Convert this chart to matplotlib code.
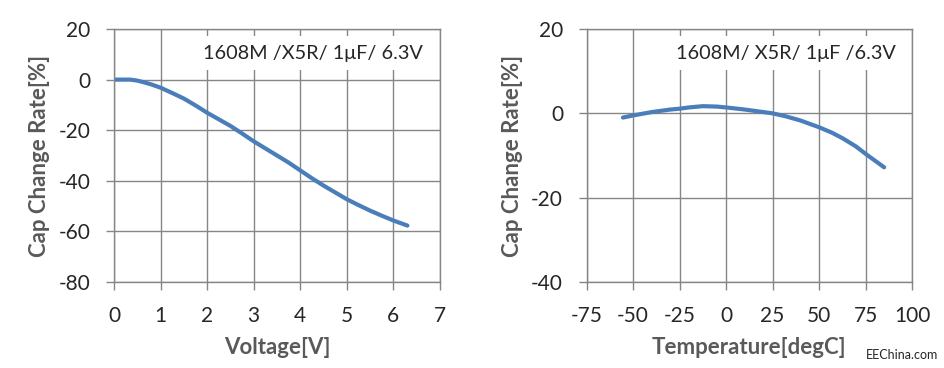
import numpy as np
import matplotlib.pyplot as plt

plt.rcParams['font.family'] = ['Lato', 'DejaVu Sans']
plt.rcParams['axes.unicode_minus'] = False

# DC bias characteristic
volt = [0, 0.2, 0.35, 0.5, 0.63, 0.8, 1.0, 1.25, 1.5, 1.75, 2.0, 2.25, 2.5, 2.75, 3.0, 3.25, 3.5,
        3.75, 4.0, 4.25, 4.5, 4.75, 5.0, 5.25, 5.5, 5.75, 6.0, 6.15, 6.3]
volt_rate = [0, 0, 0, -0.4, -1.0, -1.9, -3.2, -5.3, -7.5, -10.2, -13.1, -15.7, -18.3, -21.3, -24.4,
             -27.2, -30.0, -32.8, -35.9, -39.0, -41.9, -44.6, -47.3, -49.6, -51.8, -53.8, -55.7,
             -56.7, -57.7]

# temperature characteristic
temp = [-55.5, -50, -40, -30, -25, -20, -12.5, -5, 0, 10, 20, 25, 32, 40, 50, 57, 63, 70, 75, 80, 85]
temp_rate = [-1.0, -0.5, 0.3, 0.9, 1.1, 1.4, 1.7, 1.6, 1.4, 0.9, 0.3, 0.0, -0.7, -1.7, -3.3,
             -4.6, -6.0, -7.9, -9.6, -11.2, -12.8]

label_txt = ["1608M /X5R/ 1\u03bcF/ 6.3V", "1608M/ X5R/ 1\u03bcF /6.3V"]

blue = "#4A7EBB"
grid = "#868686"
txt = "#262626"
lab = "#595959"

fig = plt.figure(figsize=(9.45, 3.68), dpi=100)
ax1 = fig.add_axes([114/945, 1-282/368, (440-114)/945, (282-29)/368])
ax2 = fig.add_axes([586.7/945, 1-282/368, (912-586.7)/945, (282-29)/368])

def style(ax):
    ax.grid(True, color=grid, lw=1.0)
    ax.set_axisbelow(True)
    for s in ax.spines.values():
        s.set_color(grid)
        s.set_linewidth(1.0)
    ax.tick_params(direction='out', length=6, width=1.0, color=grid,
                   labelsize=15, labelcolor=txt, pad=11)
    ax.set_ylabel("Cap Change Rate[%]", fontsize=16, fontweight='bold', color=lab, labelpad=6)

ax1.plot(volt, volt_rate, color=blue, lw=3.0, solid_capstyle='round')
ax1.set_xlim(0, 7)
ax1.set_ylim(-80, 20)
ax1.set_xticks(range(0, 8))
ax1.set_yticks(range(-80, 21, 20))
style(ax1)
ax1.set_xlabel("Voltage[V]", fontsize=16, fontweight='bold', color=lab, labelpad=8)
ax1.text(0.948, 0.905, label_txt[0], transform=ax1.transAxes, ha='right', va='center',
         fontsize=14.3, color=txt, bbox=dict(facecolor='white', edgecolor='none', pad=6))

ax2.plot(temp, temp_rate, color=blue, lw=3.0, solid_capstyle='round')
ax2.set_xlim(-75, 100)
ax2.set_ylim(-40, 20)
ax2.set_xticks(range(-75, 101, 25))
ax2.set_yticks([-40, -20, 0, 20])
style(ax2)
ax2.set_xlabel("Temperature[degC]", fontsize=16, fontweight='bold', color=lab, labelpad=8)
ax2.text(0.951, 0.905, label_txt[1], transform=ax2.transAxes, ha='right', va='center',
         fontsize=14.3, color=txt, bbox=dict(facecolor='white', edgecolor='none', pad=6))

fig.text(0.993, 0.035, "EEChina.com", ha='right', va='center', fontsize=9, color=txt)

fig.savefig("out.png", dpi=100)
